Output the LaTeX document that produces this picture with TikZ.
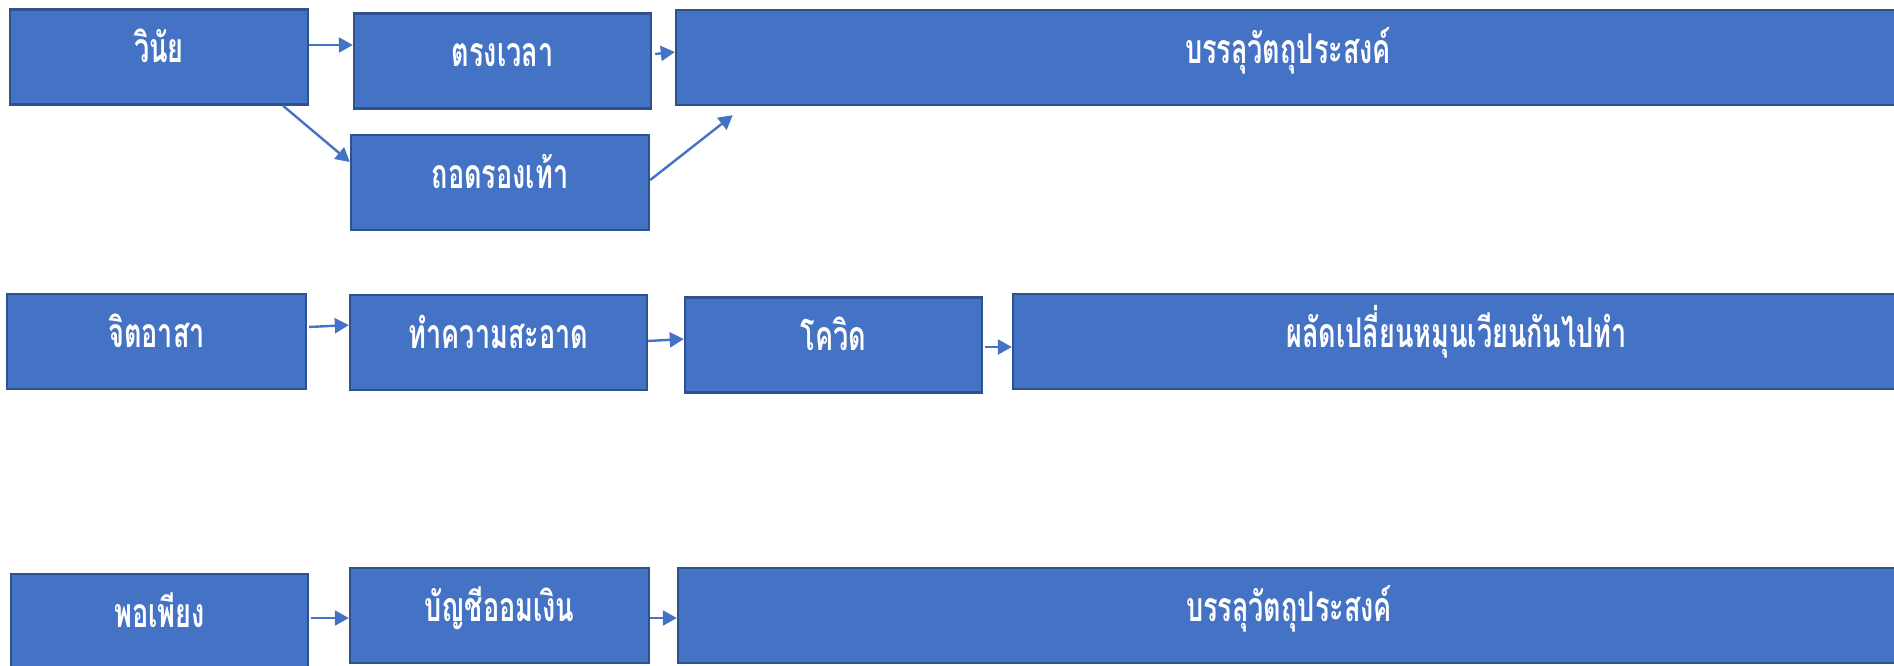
\documentclass[tikz,border=0pt]{standalone}
\usepackage{fontspec}
\newfontfamily\thaifont[Script=Thai,FakeStretch=0.66]{Loma}
\usetikzlibrary{arrows.meta}
\definecolor{boxfill}{HTML}{4472C4}
\definecolor{boxline}{HTML}{2F528F}
\tikzset{
  blk/.style={draw=boxline, line width=2.4pt, fill=boxfill, inner sep=0pt,
    text=white, font=\thaifont\bfseries\fontsize{41}{41}\selectfont,
    text height=25pt, text depth=14pt, minimum height=95pt},
  con/.style={draw=boxfill, line width=2.4pt, -{Triangle[length=14pt,width=15pt]}}
}
\begin{document}
\begin{tikzpicture}[x=1pt,y=-1pt]
\useasboundingbox (0,0) rectangle (1894,665);
% row 1
\node[blk, minimum width=298pt] (v)  at (159,57)    {วินัย};
\node[blk, minimum width=297pt] (t)  at (502.5,61)  {ตรงเวลา};
\node[blk, minimum width=1224pt] (b1) at (1288,57.5) {บรรลุวัตถุประสงค์};
\node[blk, minimum width=298pt] (d)  at (500,182.5) {ถอดรองเท้า};
% row 2
\node[blk, minimum width=299pt] (j)  at (156.5,341.5) {จิตอาสา};
\node[blk, minimum width=297pt] (c)  at (498.5,342.5) {ทำความสะอาด};
\node[blk, minimum width=297pt] (k)  at (833.5,345)   {โควิด};
\node[blk, minimum width=887pt] (p)  at (1456.5,341.5) {ผลัดเปลี่ยนหมุนเวียนกันไปทำ};
% row 3
\node[blk, minimum width=297pt] (s)  at (159.5,621.5) {พอเพียง};
\node[blk, minimum width=299pt] (m)  at (499.5,615.5) {บัญชีออมเงิน};
\node[blk, minimum width=1222pt] (b3) at (1289,615.5) {บรรลุวัตถุประสงค์};
% connectors
\draw[con] ([yshift=12pt]v.east) -- ([yshift=16pt]t.west);
\draw[con] ([xshift=3pt,yshift=7pt]t.east) -- ([yshift=5.5pt]b1.west);
\draw[con] ([xshift=124pt]v.south) -- ([yshift=20.5pt]d.west);
\draw[con] ([yshift=2.5pt]d.east) -- ([xshift=58pt,yshift=-9pt]b1.south west);
\draw[con] ([xshift=2pt,yshift=14.5pt]j.east) -- ([yshift=17.5pt]c.west);
\draw[con] ([yshift=1.5pt]c.east) -- ([yshift=6pt]k.west);
\draw[con] ([xshift=2pt,yshift=-2pt]k.east) -- ([yshift=-5.5pt]p.west);
\draw[con] ([xshift=2pt,yshift=3.5pt]s.east) -- ([yshift=-2.5pt]m.west);
\draw[con] ([yshift=-2.5pt]m.east) -- ([yshift=-2.5pt]b3.west);
\end{tikzpicture}
\end{document}
